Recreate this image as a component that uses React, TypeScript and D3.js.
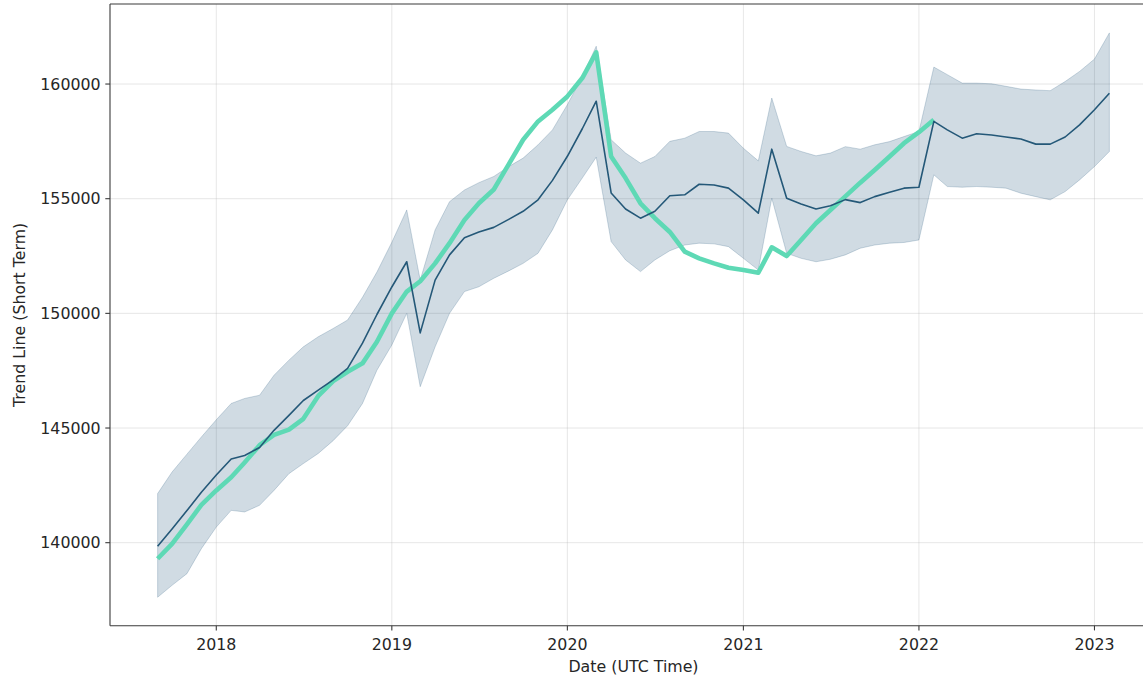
import React from "react";
import * as d3 from "d3";

// Monthly observations, first point is September 2017
const FIRST_MONTH = "2017-09-01";

// Short-term trend estimate (mean) and its uncertainty band
const trendMean = [
  139840, 140600, 141400, 142200, 142950, 143650, 143800, 144150, 144900, 145550,
  146200, 146650, 147100, 147600, 148700, 149950, 151150, 152250, 149150, 151450,
  152550, 153300, 153550, 153750, 154100, 154450, 154950, 155800, 156850, 158050,
  159250, 155250, 154550, 154150, 154450, 155130, 155170, 155630, 155600, 155460,
  154950, 154370, 157160, 155020, 154770, 154550, 154690, 154960, 154830, 155090,
  155280, 155460, 155500, 158370, 158000, 157640, 157830, 157780, 157690, 157600,
  157380, 157380, 157690, 158220, 158880, 159600,
];

const trendUpper = [
  142140, 143080, 143860, 144610, 145360, 146070, 146290, 146430, 147300, 147960,
  148540, 148980, 149340, 149710, 150700, 151800, 153100, 154510, 151450, 153640,
  154870, 155380, 155700, 155970, 156400, 156770, 157350, 158000, 159100, 160330,
  161650, 157570, 156990, 156550, 156840, 157500, 157640, 157930, 157930, 157860,
  157200, 156650, 159390, 157280, 157060, 156870, 156990, 157270, 157160, 157350,
  157490, 157710, 157930, 160740, 160410, 160040, 160040, 160010, 159900, 159780,
  159740, 159710, 160110, 160550, 161090, 162230,
];

const trendLower = [
  137620, 138140, 138650, 139740, 140680, 141410, 141340, 141630, 142280, 143010,
  143450, 143890, 144450, 145100, 146070, 147520, 148620, 150000, 146800, 148540,
  150000, 150950, 151160, 151530, 151850, 152180, 152620, 153640, 154950, 155900,
  156810, 153130, 152330, 151820, 152330, 152730, 152980, 153060, 153030, 152910,
  152400, 151890, 155020, 152620, 152400, 152250, 152360, 152550, 152840, 152980,
  153060, 153090, 153200, 156040, 155530, 155500, 155530, 155500, 155460, 155240,
  155090, 154950, 155310, 155820, 156400, 157060,
];

// Observed values (end in February 2022)
const observed = [
  139300, 139950, 140800, 141650, 142280, 142850, 143500, 144250, 144700, 144930,
  145400, 146400, 147050, 147450, 147820, 148760, 150000, 150950, 151400, 152180,
  153060, 154070, 154800, 155400, 156500, 157570, 158370, 158880, 159460, 160260,
  161380, 156840, 155900, 154800, 154150, 153550, 152690, 152400, 152180, 151990,
  151890, 151770, 152880, 152500, 153200, 153930, 154510, 155100, 155700, 156250,
  156840, 157420, 157900, 158440,
];

const yTicks = [140000, 145000, 150000, 155000, 160000];
const xTickYears = [2018, 2019, 2020, 2021, 2022, 2023];

const W = 1143;
const H = 678;
const plot = { left: 110, right: 1157, top: 4, bottom: 625.7 };

const FONT = "'DejaVu Sans', sans-serif";
const FONT_SIZE = 15.8;
const TEXT = "#262626";
const SPINE = "#3a3a3a";
const TICK_LEN = 4.7;

export default function App() {
  const start = new Date(FIRST_MONTH + "T00:00:00Z");
  const dates = trendMean.map((_, i) => d3.utcMonth.offset(start, i));

  const x = d3
    .scaleUtc()
    .domain([new Date("2017-05-25T00:00:00Z"), new Date("2023-05-11T00:00:00Z")])
    .range([plot.left, plot.right]);
  const y = d3.scaleLinear().domain([136380, 163490]).range([plot.bottom, plot.top]);

  const band = d3
    .area<number>()
    .x((i) => x(dates[i]))
    .y0((i) => y(trendLower[i]))
    .y1((i) => y(trendUpper[i]));
  const meanLine = d3
    .line<number>()
    .x((i) => x(dates[i]))
    .y((i) => y(trendMean[i]));
  const obsLine = d3
    .line<number>()
    .x((i) => x(dates[i]))
    .y((i) => y(observed[i]));

  const idx = d3.range(trendMean.length);
  const obsIdx = d3.range(observed.length);
  const xTicks = xTickYears.map((yr) => new Date(Date.UTC(yr, 0, 1)));

  return (
    <svg
      width={W}
      height={H}
      style={{ position: "absolute", left: 0, top: 0, display: "block", background: "#fff" }}
    >
      <defs>
        <clipPath id="plot-area">
          <rect x={plot.left} y={plot.top} width={plot.right - plot.left} height={plot.bottom - plot.top} />
        </clipPath>
      </defs>

      {/* grid */}
      <g stroke="#b0b0b0" strokeOpacity={0.35} strokeWidth={0.9}>
        {yTicks.map((t) => (
          <line key={t} x1={plot.left} x2={plot.right} y1={y(t)} y2={y(t)} />
        ))}
        {xTicks.map((t) => (
          <line key={+t} x1={x(t)} x2={x(t)} y1={plot.top} y2={plot.bottom} />
        ))}
      </g>

      <g clipPath="url(#plot-area)">
        <path
          d={band(idx) ?? ""}
          fill="#144b73"
          fillOpacity={0.2}
          stroke="#144b73"
          strokeOpacity={0.2}
          strokeWidth={1}
        />
        <path
          d={obsLine(obsIdx) ?? ""}
          fill="none"
          stroke="#5ed9b5"
          strokeWidth={4.6}
          strokeLinejoin="round"
          strokeLinecap="butt"
        />
        <path
          d={meanLine(idx) ?? ""}
          fill="none"
          stroke="#245878"
          strokeWidth={1.6}
          strokeLinejoin="round"
        />
      </g>

      {/* spines */}
      <g stroke={SPINE} strokeWidth={1.1}>
        <line x1={plot.left} x2={plot.left} y1={plot.top} y2={plot.bottom} />
        <line x1={plot.left} x2={plot.right} y1={plot.bottom} y2={plot.bottom} />
        <line x1={plot.left} x2={plot.right} y1={plot.top} y2={plot.top} />
        <line x1={plot.right} x2={plot.right} y1={plot.top} y2={plot.bottom} />
      </g>

      {/* y axis */}
      <g fontFamily={FONT} fontSize={FONT_SIZE} fill={TEXT}>
        {yTicks.map((t) => (
          <g key={t} transform={`translate(${plot.left},${y(t)})`}>
            <line x1={-TICK_LEN} x2={0} stroke={SPINE} strokeWidth={1.1} />
            <text x={-TICK_LEN - 4.7} dy="0.36em" textAnchor="end">
              {d3.format("d")(t)}
            </text>
          </g>
        ))}
      </g>

      {/* x axis */}
      <g fontFamily={FONT} fontSize={FONT_SIZE} fill={TEXT}>
        {xTicks.map((t) => (
          <g key={+t} transform={`translate(${x(t)},${plot.bottom})`}>
            <line y1={0} y2={TICK_LEN} stroke={SPINE} strokeWidth={1.1} />
            <text y={24} textAnchor="middle">
              {d3.utcFormat("%Y")(t)}
            </text>
          </g>
        ))}
      </g>

      <text
        x={(plot.left + plot.right) / 2}
        y={671.5}
        textAnchor="middle"
        fontFamily={FONT}
        fontSize={FONT_SIZE}
        fill={TEXT}
      >
        Date (UTC Time)
      </text>
      <text
        transform={`translate(25,${(plot.top + plot.bottom) / 2}) rotate(-90)`}
        textAnchor="middle"
        fontFamily={FONT}
        fontSize={FONT_SIZE}
        fill={TEXT}
      >
        Trend Line (Short Term)
      </text>
    </svg>
  );
}
